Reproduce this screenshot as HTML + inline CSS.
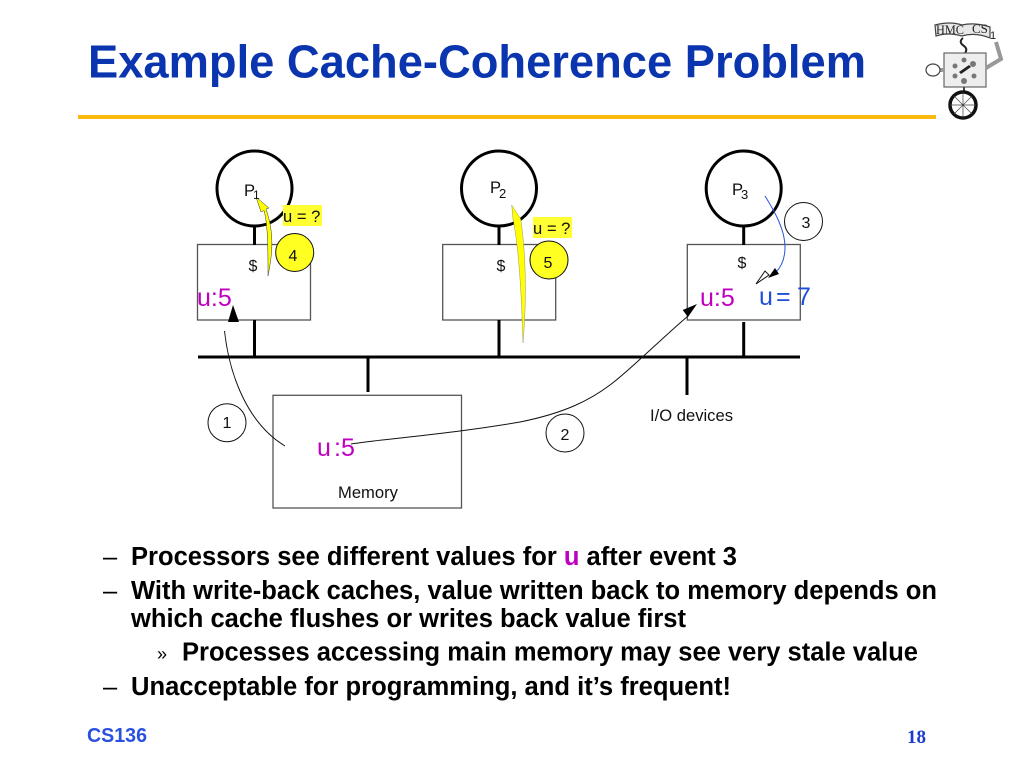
<!DOCTYPE html>
<html><head><meta charset="utf-8"><style>
html,body{margin:0;padding:0;background:#fff;width:1024px;height:768px;overflow:hidden}
svg{display:block}
text{font-family:"Liberation Sans",sans-serif}
.b{font-weight:bold;font-size:25.5px;fill:#000}
.d{font-weight:normal;font-size:25.5px;fill:#000}
.s{font-size:16.6px;fill:#111}
.m{font-size:25px;fill:#c000c0}
</style></head><body>
<svg width="1024" height="768" viewBox="0 0 1024 768" xmlns="http://www.w3.org/2000/svg">
<text x="88" y="77.5" font-size="46" font-weight="bold" fill="#0a35ae" textLength="778" lengthAdjust="spacingAndGlyphs">Example Cache-Coherence Problem</text>
<rect x="78" y="115" width="858" height="4" fill="#fbb80f"/>

<!-- logo -->
<g fill="none" stroke="#444" stroke-width="1.2">
<path d="M935 25 Q950 21 962 25 Q975 22 990 27 L990 38 Q975 32 962 36 Q948 32 936 36Z" fill="#e8e8e8"/>
<path d="M963 38 Q958 42 964 46 Q968 49 965 53" stroke-width="2" stroke="#222"/>
<rect x="944" y="53" width="42" height="34" fill="#eeeeee" stroke="#666"/>
<path d="M944 70 L934 70" stroke-width="4" stroke="#999"/>
<ellipse cx="933" cy="70" rx="7" ry="6" fill="#fff"/>
<path d="M986 68 L1001 59 L996 42" stroke-width="4" stroke="#999"/>
<path d="M964 87V92" stroke-width="2"/>
<circle cx="963" cy="105" r="13" stroke-width="3.5" stroke="#111" fill="#fff"/>
<path d="M963 92V118M950 105H976M954 96L972 114M972 96L954 114" stroke-width=".7"/>
</g>
<g fill="#777"><circle cx="964" cy="60" r="2.5"/><circle cx="955" cy="66" r="2.5"/><circle cx="973" cy="64" r="3"/><circle cx="955" cy="76" r="2.5"/><circle cx="974" cy="76" r="2.5"/><circle cx="964" cy="81" r="3"/><path d="M959 72L969 65L971 67L961 74Z" fill="#222"/></g>
<text x="936" y="34" font-size="13" style="font-family:'Liberation Serif',serif" fill="#222" textLength="28" lengthAdjust="spacingAndGlyphs">HMC</text>
<text x="972" y="33" font-size="13" style="font-family:'Liberation Serif',serif" fill="#222">CS</text>
<text x="990" y="39" font-size="11" fill="#222">1</text>

<!-- boxes -->
<g fill="none" stroke="#555" stroke-width="1.3">
<rect x="197.5" y="244.5" width="113" height="75.5"/>
<rect x="442.7" y="244.5" width="113" height="75.5"/>
<rect x="687.3" y="244.5" width="113" height="75.5"/>
<rect x="273" y="395.3" width="188.5" height="112.7"/>
</g>
<g fill="none" stroke="#000" stroke-width="3">
<circle cx="254.5" cy="188.5" r="37.5"/>
<circle cx="499" cy="188.5" r="37.5"/>
<circle cx="743.7" cy="188.5" r="37.5"/>
<path d="M254.5 226V245M254.5 320V357M499 226V245M499 320V357M743.7 226V245M743.7 322V357M198 357H800M368 357V392M687 357V395"/>
</g>

<!-- yellow label bg -->
<rect x="283" y="205" width="39" height="21" fill="#ffff33"/>
<rect x="533" y="217" width="39" height="21" fill="#ffff33"/>
<text x="283" y="222" class="s">u = ?</text>
<text x="533" y="234" class="s">u = ?</text>

<!-- numbered circles -->
<circle cx="227" cy="422.7" r="19" fill="#fff" stroke="#111"/>
<circle cx="565" cy="433" r="19" fill="#fff" stroke="#111"/>
<circle cx="803.5" cy="221.5" r="19" fill="#fff" stroke="#111"/>
<circle cx="294.7" cy="252.5" r="19" fill="#ffff22" stroke="#111"/>
<circle cx="549" cy="260" r="19" fill="#ffff22" stroke="#111"/>
<g text-anchor="middle" font-size="16" fill="#111">
<text x="227" y="428">1</text><text x="565" y="440">2</text><text x="806" y="228">3</text><text x="293" y="261">4</text><text x="548" y="268">5</text>
<text x="253" y="271">$</text><text x="501" y="271">$</text><text x="742" y="268">$</text>
</g>

<!-- yellow arrows -->
<path d="M268 276 C272 255 275 235 266 209 L269 208 L256 197 L261 212 L264 210.5 C268 225 268 250 268 276Z" fill="#ffff00" stroke="#333" stroke-width=".5"/>
<path d="M523 343 C526 310 527 260 520.7 219 L511.7 205 L513 219 C518 245 521 280 523 343Z" fill="#ffff00" stroke="#555" stroke-width=".3"/>

<!-- P labels -->
<text x="244" y="196" class="s">P</text><text x="253" y="199" font-size="12" fill="#111">1</text>
<text x="490" y="193" class="s">P</text><text x="499" y="198" font-size="13" fill="#111">2</text>
<text x="732" y="195" class="s">P</text><text x="741" y="199" font-size="13" fill="#111">3</text>

<text x="197" y="306" class="m">u:5</text>
<text x="700" y="306" class="m">u:5</text>
<text x="317" y="456" class="m">u</text><text x="334" y="456" class="m">:5</text>
<text x="759" y="305" font-size="25" fill="#1f4fd8">u</text>
<text x="776" y="305" font-size="25" fill="#1f4fd8">=</text>
<text x="797" y="305" font-size="25" fill="#1f4fd8">7</text>

<text x="338" y="498" class="s">Memory</text>
<text x="650" y="421" class="s">I/O devices</text>

<!-- curves -->
<path d="M285 446 C250 425 230 380 224.5 331" fill="none" stroke="#111" stroke-width="1"/>
<path d="M233 305 L228 322 L239 322Z" fill="#000"/>
<path d="M351 444 C400 437 450 434 520 422 C565 413 590 400 610 385 C630 370 660 340 688 316" fill="none" stroke="#111" stroke-width="1"/>
<path d="M697 304 L682.7 310 L688 317Z" fill="#000"/>
<path d="M765 196 C775 212 785 230 785 247 C785 258 782 266 776 272" fill="none" stroke="#2a55d8" stroke-width="1"/>
<path d="M756 284 L765 271 L769 275 Z" fill="#fff" stroke="#111" stroke-width="1"/>
<path d="M768 278 L775 268 L779 274Z" fill="#000"/>

<!-- bullets -->
<g>
<text x="103" y="565" class="d">–</text>
<text x="131" y="565" class="b" textLength="606" lengthAdjust="spacingAndGlyphs">Processors see different values for <tspan fill="#c000c0">u</tspan> after event 3</text>
<text x="103" y="599" class="d">–</text>
<text x="131" y="599" class="b" textLength="806" lengthAdjust="spacingAndGlyphs">With write-back caches, value written back to memory depends on</text>
<text x="131" y="627" class="b" textLength="555" lengthAdjust="spacingAndGlyphs">which cache flushes or writes back value first</text>
<text x="157" y="660" font-size="18" fill="#000">»</text>
<text x="182" y="660.5" class="b" textLength="736" lengthAdjust="spacingAndGlyphs">Processes accessing main memory may see very stale value</text>
<text x="103" y="695" class="d">–</text>
<text x="131" y="695" class="b" textLength="600" lengthAdjust="spacingAndGlyphs">Unacceptable for programming, and it’s frequent!</text>
</g>
<text x="87" y="742" font-size="20" font-weight="bold" fill="#2a50e0" textLength="60" lengthAdjust="spacingAndGlyphs">CS136</text>
<text x="907" y="743" font-size="19" font-weight="bold" style="font-family:'Liberation Serif',serif" fill="#1a3ad0">18</text>
</svg>
</body></html>
